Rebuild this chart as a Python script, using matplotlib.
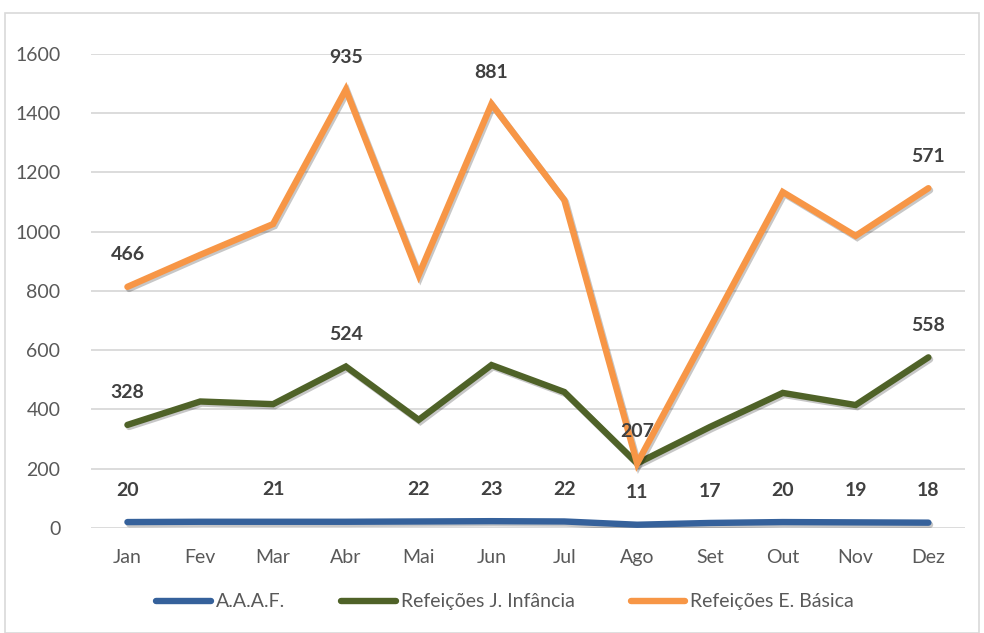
import numpy as np
import matplotlib.pyplot as plt
import matplotlib.patheffects as pe
from matplotlib.patches import Rectangle

plt.rcParams['font.family'] = ['Lato', 'DejaVu Sans']

months = ['Jan', 'Fev', 'Mar', 'Abr', 'Mai', 'Jun', 'Jul', 'Ago', 'Set', 'Out', 'Nov', 'Dez']
aaaf = [20, 21, 21, 21, 22, 23, 22, 11, 17, 20, 19, 18]
j_infancia = [328, 406, 397, 524, 343, 527, 437, 207, 324, 436, 396, 558]
e_basica = [466, 495, 608, 935, 489, 881, 648, 0, 334, 678, 571, 571]

series_names = ['A.A.A.F.', 'Refeições J. Infância', 'Refeições E. Básica']
colors = ['#35619B', '#4F6228', '#F79646']
# which months get a value label (as in the original)
shown_labels = [
    [0, 2, 4, 5, 6, 7, 8, 9, 10, 11],
    [0, 3, 7, 11],
    [0, 3, 5, 11],
]

fig = plt.figure(figsize=(9.84, 6.33), dpi=100)
fig.patches.append(Rectangle((0.005, 0.0), 0.99, 0.979, transform=fig.transFigure,
                             fill=False, edgecolor='#D9D9D9', linewidth=1.2))
ax = fig.add_axes([0.0925, 0.1659, 0.888, 0.7488])

x = np.arange(len(months))
values = [np.array(aaaf), np.array(j_infancia), np.array(e_basica)]
stacked = np.cumsum(values, axis=0)

shadow = [pe.SimpleLineShadow(offset=(1.2, -1.5), shadow_color='black', alpha=0.22), pe.Normal()]
for i in range(3):
    ax.plot(x, stacked[i], color=colors[i], linewidth=4.6, solid_capstyle='round',
            solid_joinstyle='miter', label=series_names[i], path_effects=shadow, zorder=3 + i)
    for k in shown_labels[i]:
        ax.annotate(str(values[i][k]), (x[k], stacked[i][k]), xytext=(0, 23),
                    textcoords='offset points', ha='center', va='center',
                    fontsize=14, fontweight='bold', color='#404040', zorder=10)

ax.set_xlim(-0.5, len(months) - 0.5)
ax.set_ylim(0, 1600)
ax.set_yticks(range(0, 1601, 200))
ax.set_xticks(x)
ax.set_xticklabels(months)
ax.grid(axis='y', color='#D9D9D9', linewidth=1.3)
ax.set_axisbelow(True)
for s in ax.spines.values():
    s.set_visible(False)
ax.tick_params(axis='both', length=0, labelsize=14, labelcolor='#595959')
ax.tick_params(axis='x', pad=15)
ax.tick_params(axis='y', pad=22)

leg = ax.legend(loc='center', bbox_to_anchor=(0.474, -0.156), ncol=3, frameon=False,
                fontsize=14, handlelength=2.8, handletextpad=0.25, columnspacing=2.9)
for t in leg.get_texts():
    t.set_color('#595959')
for h in leg.get_lines():
    h.set_linewidth(4.6)
    h.set_solid_capstyle('round')
    h.set_path_effects([])

fig.savefig('out.png', dpi=100)
